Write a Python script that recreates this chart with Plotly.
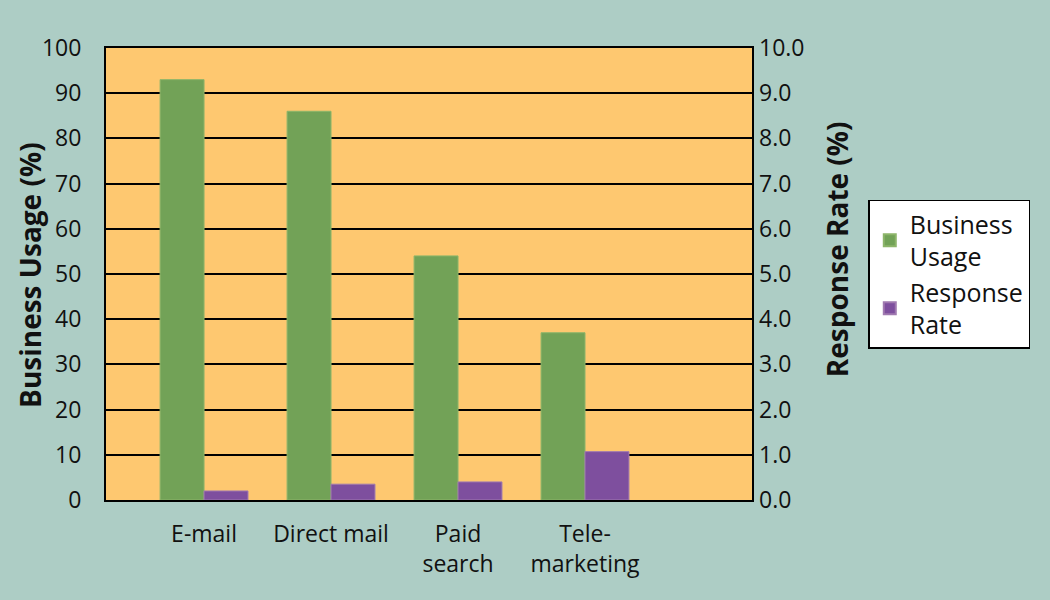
import plotly.graph_objects as go

categories = ["E-mail", "Direct mail", "Paid<br>search", "Tele-<br>marketing"]
business_usage = [93, 86, 54, 37]
response_rate = [0.2, 0.35, 0.4, 1.07]
left_ticks = list(range(0, 101, 10))
right_ticks = [i * 1.0 for i in range(0, 11)]
left_title = "Business Usage (%)"
right_title = "Response Rate (%)"

x_pos = list(range(len(categories)))
W = 0.346

fig = go.Figure()
fig.add_trace(go.Bar(
    x=x_pos, y=business_usage, name="Business<br>Usage",
    marker=dict(color="#72A257", line=dict(color="#8DB56A", width=1)),
    width=W, offset=-W, yaxis="y",
))
fig.add_trace(go.Bar(
    x=x_pos, y=response_rate, name="Response<br>Rate",
    marker=dict(color="#7E4F9E", line=dict(color="#A07AB0", width=1)),
    width=W, offset=0, yaxis="y2",
))

font_family = "'Open Sans', Lato, sans-serif"
fig.update_layout(
    width=1050, height=600,
    paper_bgcolor="#ADCDC5",
    plot_bgcolor="#FEC870",
    margin=dict(l=106, r=298, t=48, b=100),
    font=dict(family=font_family, size=23, color="#111111"),
    barmode="overlay",
    showlegend=True,
    legend=dict(
        x=1.18, y=0.664, xanchor="left", yanchor="top",
        bgcolor="white", bordercolor="black", borderwidth=1.5,
        font=dict(size=25, color="#111111"),
        itemsizing="constant", tracegroupgap=0, itemwidth=30,
    ),
    xaxis=dict(
        tickmode="array", tickvals=x_pos, ticktext=categories,
        range=[-0.772, 4.315], showgrid=False, ticks="",
        showline=True, linecolor="black", linewidth=2, mirror=True,
        ticklabelstandoff=12, zeroline=False,
    ),
    yaxis=dict(
        range=[0, 100], tickvals=left_ticks, showgrid=True,
        gridcolor="black", gridwidth=1.5, zeroline=False,
        showline=True, linecolor="black", linewidth=2, mirror=True,
        ticks="", ticklabelstandoff=18,
    ),
    yaxis2=dict(
        range=[0, 10], tickvals=right_ticks, tickformat=".1f",
        overlaying="y", side="right", showgrid=False, zeroline=False,
        ticks="", ticklabelstandoff=6,
    ),
    annotations=[
        dict(text="<b>%s</b>" % left_title, xref="paper", yref="paper",
             x=-0.1176, y=0.498, xanchor="center", yanchor="middle",
             textangle=-90, showarrow=False, font=dict(size=28)),
        dict(text="<b>%s</b>" % right_title, xref="paper", yref="paper",
             x=1.1316, y=0.555, xanchor="center", yanchor="middle",
             textangle=-90, showarrow=False, font=dict(size=28)),
    ],
)

fig.write_html(
    "out.html",
    config={"displayModeBar": False},
    post_script="document.body.style.margin='0';document.body.style.overflow='hidden';",
)
